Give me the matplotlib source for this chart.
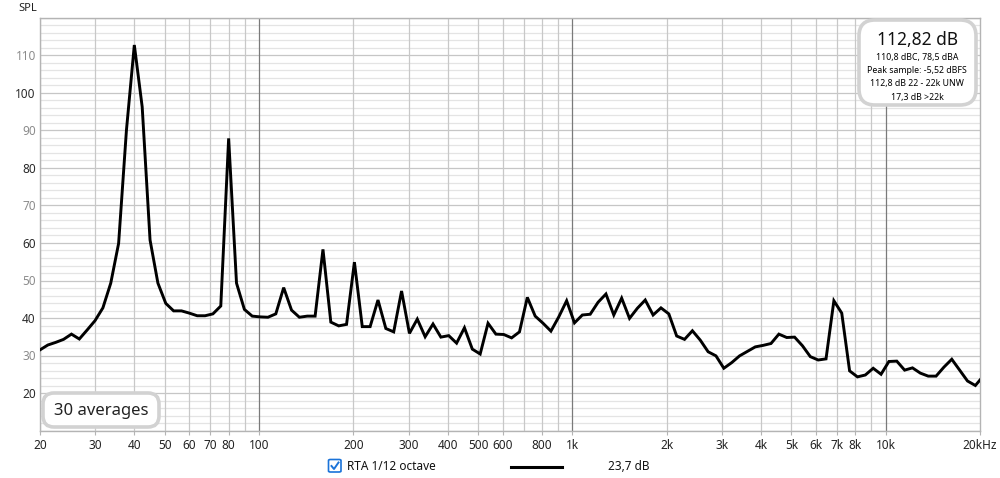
import matplotlib
matplotlib.use("Agg")
import matplotlib.pyplot as plt
from matplotlib.patches import FancyBboxPatch
from matplotlib.lines import Line2D

# --------------------------------------------------
# Data (RTA 1/12 octave, 30 averages)
# --------------------------------------------------

FREQ_HZ = [
    20.0, 21.19, 22.45, 23.78, 25.20, 26.70, 28.28, 29.97, 31.75, 33.64, 35.64, 37.75,
    40.0, 42.38, 44.90, 47.57, 50.40, 53.39, 56.57, 59.93, 63.50, 67.27, 71.27, 75.51,
    80.0, 84.76, 89.80, 95.14, 100.79, 106.78, 113.14, 119.87, 127.0, 134.54, 142.54, 151.02,
    160.0, 169.52, 179.60, 190.27, 201.59, 213.57, 226.27, 239.73, 253.98, 269.09, 285.09, 302.04,
    320.0, 339.03, 359.19, 380.55, 403.17, 427.15, 452.55, 479.46, 507.97, 538.17, 570.17, 604.08,
    640.0, 678.06, 718.38, 761.10, 806.35, 854.30, 905.10, 958.92, 1015.9, 1076.3, 1140.3, 1208.2,
    1280.0, 1356.1, 1436.8, 1522.2, 1612.7, 1708.6, 1810.2, 1917.8, 2031.9, 2152.7, 2280.7, 2416.3,
    2560.0, 2712.2, 2873.5, 3044.4, 3225.4, 3417.2, 3620.4, 3835.7, 4063.7, 4305.4, 4561.4, 4832.6,
    5120.0, 5424.5, 5746.9, 6088.7, 6450.8, 6834.4, 7240.8, 7671.3, 8127.5, 8610.7, 9122.7, 9665.2,
    10240, 10849, 11494, 12177, 12902, 13669, 14482, 15343, 16255, 17222, 18245, 19330,
    20480,
]

SPL_DB = [
    31.5, 32.8, 33.5, 34.3, 35.7, 34.4, 36.8, 39.3, 42.7, 49.3, 59.9, 90.1,
    112.8, 96.3, 60.8, 49.3, 43.9, 41.9, 41.9, 41.3, 40.6, 40.6, 41.1, 43.2,
    87.9, 49.3, 42.3, 40.5, 40.3, 40.2, 41.1, 48.1, 42.1, 40.2, 40.5, 40.5,
    58.3, 38.9, 37.9, 38.3, 54.9, 37.7, 37.7, 44.8, 37.2, 36.3, 47.2, 35.9,
    39.7, 35.0, 38.4, 34.9, 35.3, 33.3, 37.4, 31.7, 30.4, 38.6, 35.7, 35.6,
    34.7, 36.3, 45.5, 40.5, 38.6, 36.5, 40.3, 44.6, 38.7, 40.8, 41.0, 44.2,
    46.4, 40.8, 45.3, 39.9, 42.6, 44.8, 40.8, 42.7, 41.1, 35.2, 34.3, 36.6,
    34.1, 31.0, 29.9, 26.6, 28.1, 29.9, 31.1, 32.3, 32.7, 33.2, 35.7, 34.8,
    34.9, 32.6, 29.7, 28.8, 29.1, 44.6, 41.3, 25.9, 24.3, 24.8, 26.6, 25.0,
    28.4, 28.5, 26.1, 26.7, 25.3, 24.5, 24.5, 26.9, 29.0, 26.1, 23.2, 22.0,
    24.5,
]

X_TICKS = [20, 30, 40, 50, 60, 70, 80, 100, 200, 300, 400, 500, 600, 800,
           1000, 2000, 3000, 4000, 5000, 6000, 7000, 8000, 10000, 20000]
X_LABELS = ["20", "30", "40", "50", "60", "70", "80", "100", "200", "300", "400",
            "500", "600", "800", "1k", "2k", "3k", "4k", "5k", "6k", "7k", "8k",
            "10k", "20kHz"]
GRID_FREQS = [20, 30, 40, 50, 60, 70, 80, 90,
              100, 200, 300, 400, 500, 600, 700, 800, 900,
              1000, 2000, 3000, 4000, 5000, 6000, 7000, 8000, 9000, 10000]
DECADES = [100, 1000, 10000]
Y_TICKS = [20, 30, 40, 50, 60, 70, 80, 90, 100, 110]

INFO_TITLE = "112,82 dB"
INFO_LINES = ["110,8 dBC, 78,5 dBA", "Peak sample: -5,52 dBFS",
              "112,8 dB 22 - 22k UNW", "17,3 dB >22k"]
AVERAGES_TEXT = "30 averages"
LEGEND_NAME = "RTA 1/12 octave"
LEGEND_VALUE = "23,7 dB"

# --------------------------------------------------
# Figure
# --------------------------------------------------

plt.rcParams["font.family"] = ["Noto Sans", "DejaVu Sans"]

W, H = 1000, 478
fig = plt.figure(figsize=(W / 100, H / 100), dpi=100)


def fx(px):
    return px / W


def fy(py):
    return 1 - py / H


ax = fig.add_axes([fx(40), fy(430.5), fx(940), (430.5 - 18) / H])

ax.set_xscale("log")
ax.set_xlim(20, 20000)
ax.set_ylim(10, 120)

# grid
for v in range(10, 121, 2):
    ax.axhline(v, color="#c6c6c6" if v % 10 == 0 else "#e4e4e4",
               lw=0.9, zorder=0)

for f in GRID_FREQS:
    ax.axvline(f, color="#7a7a7a" if f in DECADES else "#c8c8c8",
               lw=0.9, zorder=1)

ax.plot(FREQ_HZ, SPL_DB, color="black", lw=2.1, zorder=3,
        solid_joinstyle="miter")

for s in ax.spines.values():
    s.set_color("#b4b4b4")
    s.set_linewidth(1.0)

ax.set_xticks(X_TICKS)
ax.set_xticklabels(X_LABELS)
ax.xaxis.set_minor_locator(matplotlib.ticker.NullLocator())
ax.set_yticks(Y_TICKS)
ax.tick_params(axis="x", length=3, color="#b4b4b4", labelsize=8.5,
               labelcolor="#222222", pad=3)
ax.tick_params(axis="y", length=0, labelsize=8.5, pad=3)
for v, lab in zip(Y_TICKS, ax.get_yticklabels()):
    lab.set_color("#2a2a2a" if v % 20 == 0 else "#8c8c8c")

fig.text(fx(28), fy(8.5), "SPL", ha="center", va="center",
         fontsize=8, color="#222222")

# --------------------------------------------------
# Info box
# --------------------------------------------------

info = FancyBboxPatch((fx(859), fy(105)), fx(117), 85 / H,
                      boxstyle="round,pad=0,rounding_size=0.016",
                      transform=fig.transFigure, facecolor="white",
                      edgecolor="#d2d2d2", lw=2.6, zorder=5, mutation_aspect=W / H)
fig.add_artist(info)
fig.text(fx(918), fy(40), INFO_TITLE, ha="center", va="center",
         fontsize=12.5, color="#111111", zorder=6)
for i, line in enumerate(INFO_LINES):
    fig.text(fx(917), fy(57 + 13.4 * i), line, ha="center", va="center",
             fontsize=6.3, color="black", zorder=6)

# --------------------------------------------------
# Averages box
# --------------------------------------------------

avg = FancyBboxPatch((fx(43), fy(427)), fx(116), 34 / H,
                     boxstyle="round,pad=0,rounding_size=0.011",
                     transform=fig.transFigure, facecolor="white",
                     edgecolor="#d2d2d2", lw=2.6, zorder=5, mutation_aspect=W / H)
fig.add_artist(avg)
fig.text(fx(101), fy(411), AVERAGES_TEXT, ha="center", va="center",
         fontsize=12, color="#222222", zorder=6)

# --------------------------------------------------
# Legend row
# --------------------------------------------------

box = FancyBboxPatch((fx(328.5), fy(472)), fx(12.5), 12.5 / H,
                     boxstyle="round,pad=0,rounding_size=0.002",
                     transform=fig.transFigure, facecolor="white",
                     edgecolor="#1a73d9", lw=1.2)
fig.add_artist(box)
fig.add_artist(Line2D([fx(331.5), fx(334), fx(338.5)],
                      [fy(466), fy(469), fy(462.5)],
                      transform=fig.transFigure, color="#1a73d9", lw=1.4))
fig.text(fx(347), fy(466.5), LEGEND_NAME, ha="left", va="center",
         fontsize=8.5, color="#111111")
fig.add_artist(Line2D([fx(511), fx(562)], [fy(466.7), fy(466.7)],
                      transform=fig.transFigure, color="black", lw=2.2))
fig.text(fx(608), fy(466.5), LEGEND_VALUE, ha="left", va="center",
         fontsize=8.5, color="#111111")

fig.savefig("out.png", dpi=100)
